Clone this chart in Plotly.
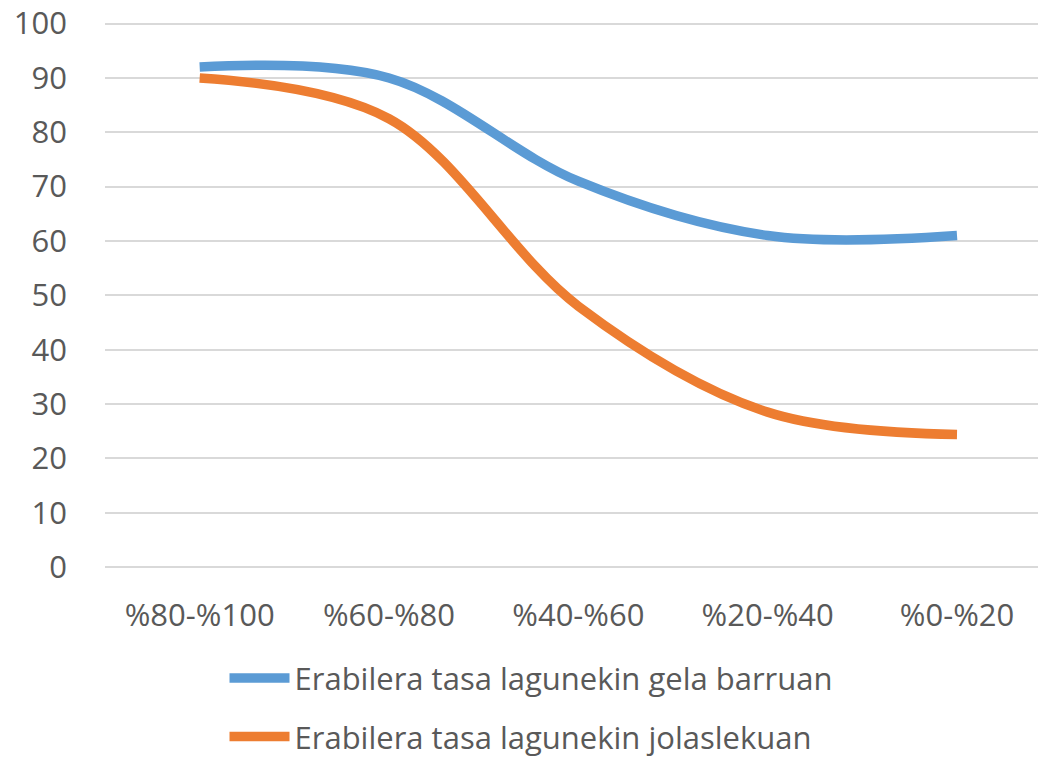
import plotly.graph_objects as go

categories = ['%80-%100', '%60-%80', '%40-%60', '%20-%40', '%0-%20']
gela_barruan = [92, 90, 71, 61, 61]
jolaslekuan = [90, 82.5, 48, 28.5, 24.4]
y_ticks = list(range(0, 101, 10))

BLUE = '#5B9BD5'
ORANGE = '#ED7D31'
FONT = 'Open Sans'
TXT = '#595959'

fig = go.Figure()
fig.add_trace(go.Scatter(
    x=categories, y=gela_barruan, mode='lines',
    name='Erabilera tasa lagunekin gela barruan', legendgroup='a',
    line=dict(color=BLUE, width=9.5, shape='spline', smoothing=1)))
fig.add_trace(go.Scatter(
    x=categories, y=jolaslekuan, mode='lines',
    name='Erabilera tasa lagunekin jolaslekuan', legendgroup='b',
    line=dict(color=ORANGE, width=9.5, shape='spline', smoothing=1)))

# page body has an 8px margin, so the figure sits 8px right/down
fig.update_layout(
    width=1038, height=755,
    margin=dict(l=97, r=0, t=14, b=196, autoexpand=False),
    plot_bgcolor='white', paper_bgcolor='white',
    font=dict(family=FONT, size=31, color=TXT),
    xaxis=dict(range=[-0.5, 4.47], showgrid=False, showline=False,
               ticks='', ticklabelstandoff=27, automargin=False, fixedrange=True),
    yaxis=dict(range=[0, 100.3], tickvals=y_ticks, showgrid=True,
               gridcolor='#D9D9D9', gridwidth=1.5, zeroline=True,
               zerolinecolor='#D9D9D9', zerolinewidth=1.5,
               showline=False, ticks='', ticklabelstandoff=37,
               ticklabeloverflow='allow', automargin=False),
    legend=dict(x=0.127, y=-0.155, xanchor='left', yanchor='top',
                orientation='v', tracegroupgap=15, itemwidth=60,
                font=dict(family=FONT, size=31, color=TXT),
                bgcolor='rgba(0,0,0,0)'),
)

fig.write_html('out.html')
